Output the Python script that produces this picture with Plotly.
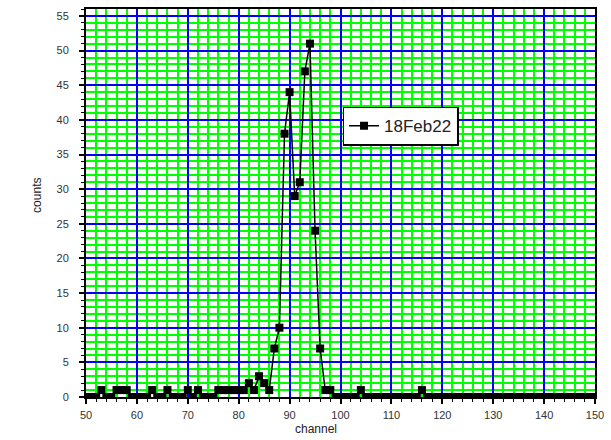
import plotly.graph_objects as go

channels = list(range(50, 151))
counts = [
    0, 0, 0, 1, 0, 0, 1, 1, 1, 0,        # 50-59
    0, 0, 0, 1, 0, 0, 1, 0, 0, 0,        # 60-69
    1, 0, 1, 0, 0, 0, 1, 1, 1, 1,        # 70-79
    1, 1, 2, 1, 3, 2, 1, 7, 10, 38,      # 80-89
    44, 29, 31, 47, 51, 24, 7, 1, 1, 0,  # 90-99
    0, 0, 0, 0, 1, 0, 0, 0, 0, 0,        # 100-109
    0, 0, 0, 0, 0, 0, 1, 0, 0, 0,        # 110-119
    0, 0, 0, 0, 0, 0, 0, 0, 0, 0,        # 120-129
    0, 0, 0, 0, 0, 0, 0, 0, 0, 0,        # 130-139
    0, 0, 0, 0, 0, 0, 0, 0, 0, 0,        # 140-149
    0,                                   # 150
]
series_name = "18Feb22"
x_title = "channel"
y_title = "counts"

FONT = "Liberation Sans, Arial, sans-serif"

fig = go.Figure()
fig.add_trace(go.Scatter(
    x=channels, y=counts, name=series_name,
    mode="lines+markers",
    line=dict(color="black", width=1.5),
    marker=dict(symbol="square", size=8, color="black"),
    showlegend=True,
))

axis_common = dict(
    showgrid=True, gridcolor="#0000ff", gridwidth=1.8,
    ticks="outside", tickcolor="black", tickwidth=1.5, ticklen=5,
    showline=True, linecolor="black", linewidth=2, mirror=True,
    zeroline=False,
    tickfont=dict(family=FONT, size=11, color="#333333"),
)

fig.update_xaxes(
    range=[50, 150], tick0=50, dtick=10,
    minor=dict(dtick=2, showgrid=True, gridcolor="#00ff00", gridwidth=1.8,
               ticks="outside", ticklen=3, tickcolor="black", tickwidth=1.2),
    ticklabelstandoff=2,
    **axis_common,
)
fig.update_yaxes(
    range=[0, 56], tick0=0, dtick=5,
    minor=dict(dtick=1, showgrid=True, gridcolor="#00ff00", gridwidth=1.8,
               ticks="outside", ticklen=3, tickcolor="black", tickwidth=1.2),
    ticklabelstandoff=8,
    **axis_common,
)

fig.add_annotation(text=x_title, xref="paper", yref="paper", x=0.451, y=-0.083,
                   xanchor="center", yanchor="middle", showarrow=False,
                   font=dict(family=FONT, size=12, color="#222222"))
fig.add_annotation(text=y_title, xref="paper", yref="paper", x=-0.095, y=0.52,
                   xanchor="center", yanchor="middle", showarrow=False, textangle=-90,
                   font=dict(family=FONT, size=12, color="#222222"))

fig.update_layout(
    width=611, height=440,
    margin=dict(l=86, r=15, t=7, b=43),
    paper_bgcolor="white", plot_bgcolor="white",
    legend=dict(x=0.504, y=0.748, xanchor="left", yanchor="top",
                bgcolor="white", bordercolor="black", borderwidth=1.5,
                font=dict(family=FONT, size=17, color="#222222")),
)

fig.write_html("out.html")
